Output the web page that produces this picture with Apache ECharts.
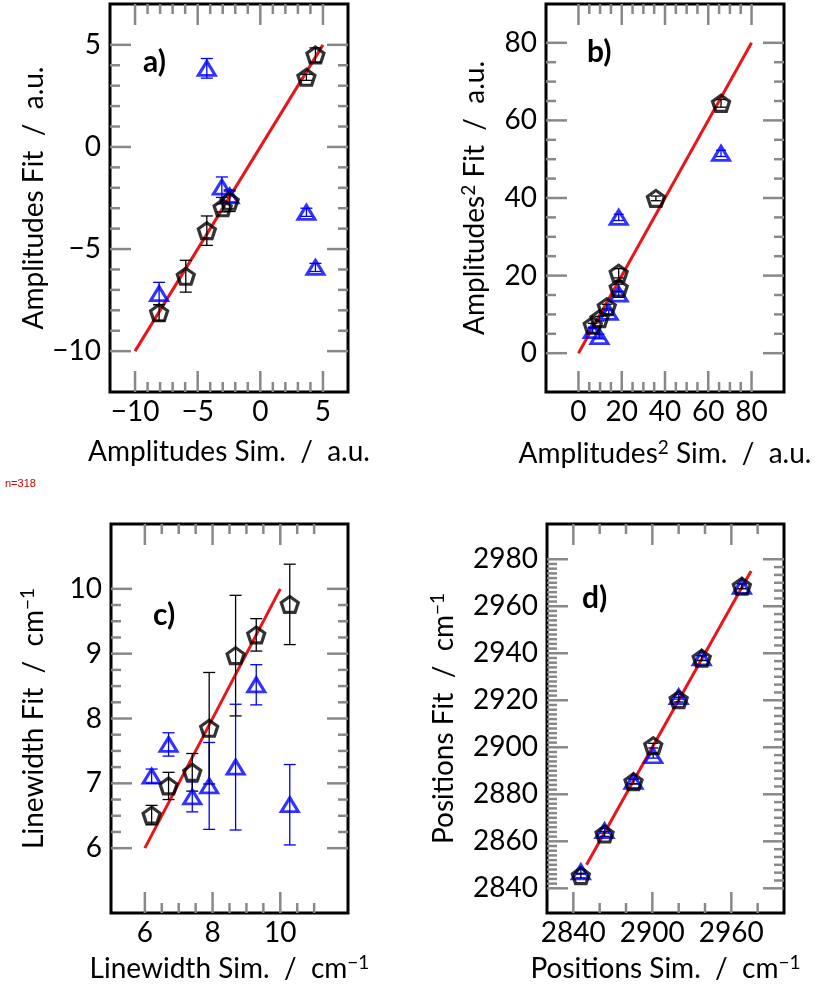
<!DOCTYPE html>
<html><head><meta charset="utf-8">
<script src="https://cdn.jsdelivr.net/npm/echarts@6/dist/echarts.min.js"></script>
<style>html,body{margin:0;padding:0;background:#fff}#c{width:815px;height:990px;background:#fff}</style>
</head><body><div id="c"></div>
<script>
let DIAG = '';
window.onerror = function (m) { DIAG += ' WERR:' + m; };
// ---------- Panel a: Amplitudes ----------
const aBlackX = [4.4, 3.68, -2.45, -3.01, -4.27, -5.95, -8.08];
const aBlackY = [4.5, 3.41, -2.66, -2.98, -4.10, -6.33, -8.12];
const aBlackErr = [0.35, 0.15, 0.5, 0.2, 0.72, 0.78, 0.4];
const aBlueX = [-4.27, -3.07, -2.45, 3.68, 4.4, -8.08];
const aBlueY = [3.85, -1.97, -2.4, -3.2, -5.9, -7.18];
const aBlueErr = [0.48, 0.5, 0.3, 0.2, 0.2, 0.55];
const aFit = [-10, 5];
const aXTicks = [-10, -5, 0, 5];
const aYTicks = [-10, -5, 0, 5];

// ---------- Panel b: Amplitudes^2 ----------
const bBlackX = [65.9, 35.8, 18.6, 18.6, 13.1, 9.7, 6.6];
const bBlackY = [64.4, 39.9, 20.6, 16.8, 12.0, 8.9, 7.2];
const bBlackErr = [1.0, 0.6, 1.2, 1.0, 0.6, 0.6, 0.5];
const bBlueX = [65.9, 18.6, 18.6, 14.0, 9.7, 6.6];
const bBlueY = [51.5, 35.0, 15.2, 10.5, 4.3, 5.8];
const bBlueErr = [0.8, 0.8, 0.8, 0.6, 0.6, 0.6];
const bFit = [0, 80];
const bXTicks = [0, 20, 40, 60, 80];
const bYTicks = [0, 20, 40, 60, 80];

// ---------- Panel c: Linewidth ----------
const cBlackX = [6.2, 6.7, 7.4, 7.9, 8.68, 9.29, 10.28];
const cBlackY = [6.51, 6.96, 7.17, 7.85, 8.97, 9.29, 9.76];
const cBlackErr = [0.15, 0.21, 0.29, 0.86, 0.93, 0.25, 0.62];
const cBlueX = [6.2, 6.7, 7.4, 7.9, 8.68, 9.29, 10.28];
const cBlueY = [7.11, 7.6, 6.79, 6.96, 7.25, 8.52, 6.67];
const cBlueErr = [0.11, 0.18, 0.23, 0.67, 0.97, 0.31, 0.62];
const cFit = [6, 10];
const cXTicks = [6, 8, 10];
const cYTicks = [6, 7, 8, 9, 10];

// ---------- Panel d: Positions ----------
const dBlackX = [2845.7, 2863.7, 2885.7, 2900.7, 2920.0, 2937.5, 2968.0];
const dBlackY = [2845.4, 2863.1, 2885.4, 2900.7, 2920.3, 2937.9, 2968.5];
const dBlackErr = [1.0, 1.0, 1.0, 1.0, 1.0, 1.0, 1.0];
const dBlueX = [2845.7, 2863.7, 2885.7, 2900.7, 2920.0, 2937.5, 2968.0];
const dBlueY = [2847.0, 2864.5, 2885.5, 2896.4, 2921.5, 2938.0, 2968.5];
const dBlueErr = [1.0, 1.0, 1.0, 1.0, 1.0, 1.0, 1.0];
const dFit = [2850, 2975];
const dXTicks = [2840, 2900, 2960];
const dYTicks = [2840, 2860, 2880, 2900, 2920, 2940, 2960, 2980];

// ---------- styling ----------
const FONT = 'Lato';
const FS = 28;
const BLUE = '#0000ff';
const RED = '#e8161b';
const TICKC = '#888888';
const MAJ_LEN = 21, MIN_LEN = 10;
const pentagon = 'path://M0,-1L0.951,-0.309L0.588,0.809L-0.588,0.809L-0.951,-0.309Z';

function rnd(v) { return Math.round(v * 10000) / 10000; }
function minors(from, to, step, majors) {
  const out = [];
  const n = Math.round((to - from) / step);
  for (let i = 0; i <= n; i++) {
    const v = rnd(from + i * step);
    if (!majors.some(m => Math.abs(m - v) < 1e-6)) out.push(v);
  }
  return out;
}
function fmt(v) { return String(v).replace('-', '\u2212'); }

const rich = {
  n: { fontFamily: FONT, fontSize: FS, color: '#000' },
  s: { fontFamily: FONT, fontSize: 19, color: '#000', verticalAlign: 'top', padding: [0, 0, 12, 0] }
};

const panels = [
  { grid: { left: 110, top: 4, width: 238, height: 388 },
    xMin: -12, xMax: 7, yMin: -12, yMax: 7,
    xMaj: aXTicks, xMinB: minors(-10, 5, 1, aXTicks), xMinT: minors(-10, 5, 1, aXTicks),
    yMaj: aYTicks, yMinL: minors(-10, 5, 1, aYTicks), yMinR: minors(-10, 5, 1, aYTicks),
    xName: '{n|Amplitudes Sim.  /  a.u.}', yName: '{n|Amplitudes Fit  /  a.u.}',
    xGap: 46, yGap: 50, label: 'a)', lx: 143, ly: 47,
    black: [aBlackX, aBlackY, aBlackErr], blue: [aBlueX, aBlueY, aBlueErr], fit: aFit, capW: 6 },
  { grid: { left: 546, top: 4, width: 238, height: 388 },
    xMin: -15, xMax: 95, yMin: -10, yMax: 90,
    xMaj: bXTicks, xMinB: minors(0, 80, 5, bXTicks), xMinT: minors(0, 80, 5, bXTicks),
    yMaj: bYTicks, yMinL: minors(0, 80, 5, bYTicks), yMinR: minors(0, 80, 5, bYTicks),
    xName: '{n|Amplitudes}{s|2}{n| Sim.  /  a.u.}', yName: '{n|Amplitudes}{s|2}{n| Fit  /  a.u.}',
    xGap: 46, yGap: 56, label: 'b)', lx: 587, ly: 37,
    black: [bBlackX, bBlackY, bBlackErr], blue: [bBlueX, bBlueY, bBlueErr], fit: bFit, capW: 5 },
  { grid: { left: 111, top: 524, width: 237, height: 389 },
    xMin: 5, xMax: 12, yMin: 5, yMax: 11,
    xMaj: cXTicks, xMinB: minors(6, 11, 0.5, cXTicks), xMinT: minors(6, 11, 0.5, cXTicks),
    yMaj: cYTicks, yMinL: minors(6, 10, 0.25, cYTicks), yMinR: minors(6, 10, 0.25, cYTicks),
    xName: '{n|Linewidth Sim.  /  cm}{s|\u22121}', yName: '{n|Linewidth Fit  /  cm}{s|\u22121}',
    xGap: 40, yGap: 62, label: 'c)', lx: 153, ly: 600,
    black: [cBlackX, cBlackY, cBlackErr], blue: [cBlueX, cBlueY, cBlueErr], fit: cFit, capW: 6 },
  { grid: { left: 547, top: 524, width: 237, height: 389 },
    xMin: 2820, xMax: 3000, yMin: 2829.5, yMax: 2995,
    xMaj: dXTicks, xMinB: minors(2840, 2980, 20, dXTicks), xMinT: minors(2840, 2980, 20, dXTicks),
    yMaj: dYTicks, yMinL: minors(2840, 2980, 2, dYTicks), yMinR: minors(2840, 2980, 20 / 6, dYTicks),
    xName: '{n|Positions Sim.  /  cm}{s|\u22121}', yName: '{n|Positions Fit  /  cm}{s|\u22121}',
    xGap: 40, yGap: 88, label: 'd)', lx: 582, ly: 583,
    black: [dBlackX, dBlackY, dBlackErr], blue: [dBlueX, dBlueY, dBlueErr], fit: dFit, capW: 5 }
];

const grids = [], xAxes = [], yAxes = [], series = [], titles = [];

function axis(g, pos, min, max, ticks, name, gap) {
  const isY = pos === 'left';
  return {
    gridIndex: g, type: 'value', position: pos, min: min, max: max,
    axisLine: { show: false, onZero: false },
    axisTick: { show: false },
    axisLabel: { show: true, customValues: ticks, formatter: fmt, margin: isY ? 9 : 6,
                 fontFamily: FONT, fontSize: FS, color: '#000' },
    splitLine: { show: false },
    name: name, nameLocation: 'middle', nameGap: gap,
    nameTextStyle: { fontFamily: FONT, fontSize: FS, color: '#000', rich: rich }
  };
}

function errSeries(xi, yi, X, Y, E, color, capW) {
  return {
    type: 'custom', xAxisIndex: xi, yAxisIndex: yi, z: 3, clip: false,
    data: X.map((x, i) => [x, Y[i], E[i]]),
    renderItem: function (params, api) {
      const x = api.value(0), y = api.value(1), e = api.value(2);
      const t = api.coord([x, y + e]), b = api.coord([x, y - e]);
      const st = { stroke: color, lineWidth: 1.3 };
      return { type: 'group', children: [
        { type: 'line', shape: { x1: t[0], y1: t[1], x2: b[0], y2: b[1] }, style: st },
        { type: 'line', shape: { x1: t[0] - capW, y1: t[1], x2: t[0] + capW, y2: t[1] }, style: st },
        { type: 'line', shape: { x1: b[0] - capW, y1: b[1], x2: b[0] + capW, y2: b[1] }, style: st }
      ] };
    }
  };
}

panels.forEach((p, g) => {
  grids.push(Object.assign({ show: true, borderColor: '#000', borderWidth: 3 }, p.grid));
  const xi = xAxes.length, yi = yAxes.length;
  xAxes.push(axis(g, 'bottom', p.xMin, p.xMax, p.xMaj, p.xName, p.xGap));
  yAxes.push(axis(g, 'left', p.yMin, p.yMax, p.yMaj, p.yName, p.yGap));

  series.push({ type: 'line', xAxisIndex: xi, yAxisIndex: yi, z: 2, symbol: 'none', silent: true,
    data: [[p.fit[0], p.fit[0]], [p.fit[1], p.fit[1]]],
    lineStyle: { color: RED, width: 3 } });
  series.push(errSeries(xi, yi, p.blue[0], p.blue[1], p.blue[2], BLUE, p.capW));
  series.push({ type: 'scatter', xAxisIndex: xi, yAxisIndex: yi, z: 4,
    data: p.blue[0].map((x, i) => [x, p.blue[1][i]]),
    symbol: 'triangle', symbolSize: [17, 14],
    itemStyle: { color: 'rgba(0,0,0,0)', borderColor: BLUE, borderWidth: 3 } });
  series.push(errSeries(xi, yi, p.black[0], p.black[1], p.black[2], '#000', p.capW));
  series.push({ type: 'scatter', xAxisIndex: xi, yAxisIndex: yi, z: 5,
    data: p.black[0].map((x, i) => [x, p.black[1][i]]),
    symbol: pentagon, symbolSize: [17, 16],
    itemStyle: { color: 'rgba(0,0,0,0)', borderColor: '#000', borderWidth: 3.2 } });

  titles.push({ text: p.label, left: p.lx, top: p.ly, padding: 0,
    textStyle: { fontFamily: FONT, fontSize: 30, fontWeight: 'bold', color: '#000' } });
});

const chart = echarts.init(document.getElementById('c'));
try {
  chart.setOption({
    animation: false,
    title: titles,
    grid: grids,
    xAxis: xAxes,
    yAxis: yAxes,
    series: series
  });
} catch (e) { DIAG += ' SETERR:' + e.message; }

// Tick marks: positions converted through each grid's own axis scales
const tickEls = [];
try {
  panels.forEach((p, g) => {
    const lo = chart.convertToPixel({ gridIndex: g }, [p.xMin, p.yMin]);
    const hi = chart.convertToPixel({ gridIndex: g }, [p.xMax, p.yMax]);
    const L = lo[0], R = hi[0], B = lo[1], T = hi[1];
    const xt = (v, len, top) => {
      const px = chart.convertToPixel({ gridIndex: g }, [v, p.yMin])[0];
      tickEls.push({ type: 'line', z: 20, silent: true,
        shape: { x1: px, y1: top ? T : B, x2: px, y2: top ? T + len : B - len },
        style: { stroke: TICKC, lineWidth: 2.5 } });
    };
    const yt = (v, len, right) => {
      const py = chart.convertToPixel({ gridIndex: g }, [p.xMin, v])[1];
      tickEls.push({ type: 'line', z: 20, silent: true,
        shape: { x1: right ? R : L, y1: py, x2: right ? R - len : L + len, y2: py },
        style: { stroke: TICKC, lineWidth: 2.5 } });
    };
    p.xMaj.forEach(v => { xt(v, MAJ_LEN, false); xt(v, MAJ_LEN, true); });
    p.xMinB.forEach(v => xt(v, MIN_LEN, false));
    p.xMinT.forEach(v => xt(v, MIN_LEN, true));
    p.yMaj.forEach(v => { yt(v, MAJ_LEN, false); yt(v, MAJ_LEN, true); });
    p.yMinL.forEach(v => yt(v, MIN_LEN, false));
    p.yMinR.forEach(v => yt(v, MIN_LEN, true));
  });
} catch (e) { DIAG += ' TICKERR:' + e.message; }
tickEls.push({ type: 'text', left: 5, top: 478, z: 30,
  style: { text: 'n=' + tickEls.length + DIAG, fontSize: 11, fill: '#c00' } });
chart.setOption({ graphic: { elements: tickEls } });
</script></body></html>
